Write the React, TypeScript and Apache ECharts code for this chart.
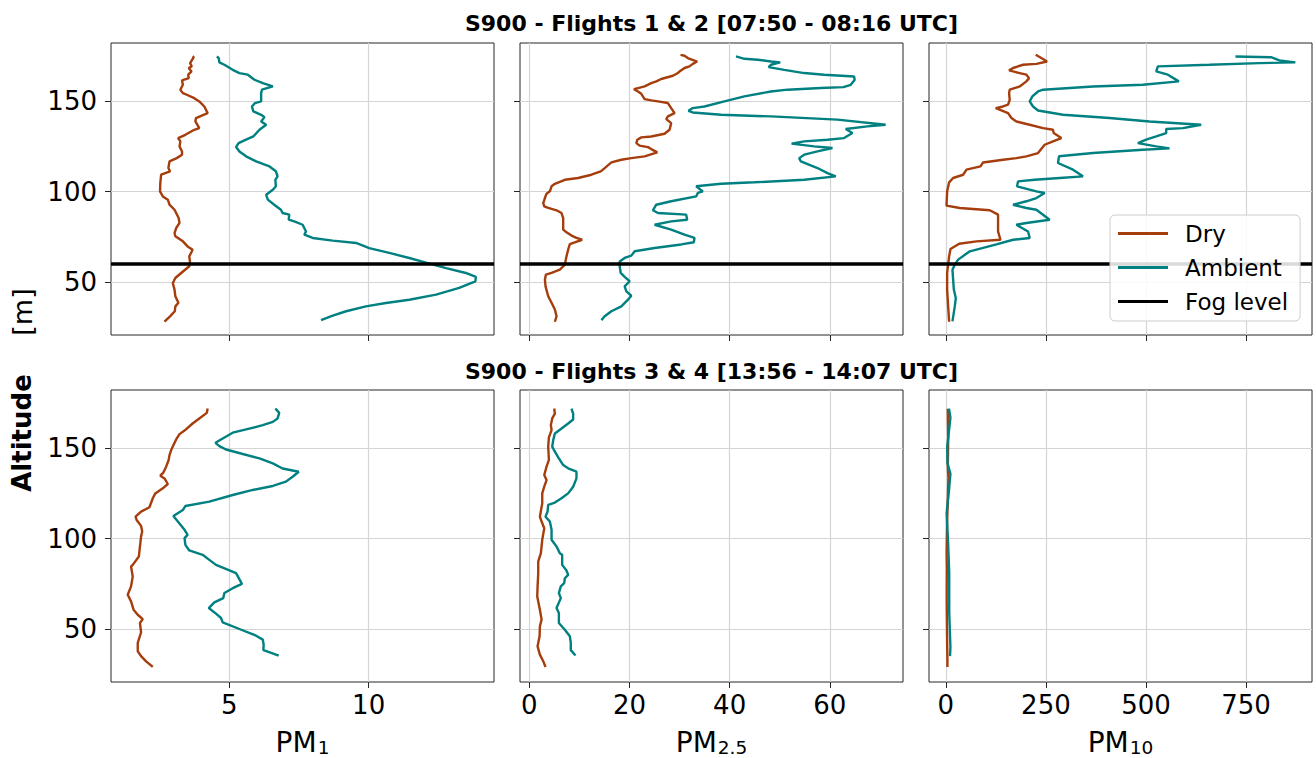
import React, { useEffect, useRef } from 'react';
import * as echarts from 'echarts';

const FONT = 'DejaVu Sans';
const DRY_COLOR = '#a63d0c';
const AMB_COLOR = '#008080';

const TITLES = ['S900 - Flights 1 & 2 [07:50 - 08:16 UTC]', 'S900 - Flights 3 & 4 [13:56 - 14:07 UTC]'];
const X_LABEL_MAIN = ['PM', 'PM', 'PM'];
const X_LABEL_SUB = ['1', '2.5', '10'];
const X_TICKS = [[5, 10], [0, 20, 40, 60], [0, 250, 500, 750]];
const Y_TICKS = [50, 100, 150];
const X_RANGES = [[0.75, 14.5], [-1.85, 74.6], [-42, 914.6]];
const Y_RANGE = [20.65, 182.35];
const FOG_LEVEL = 60;
const LEGEND_NAMES = ['Dry', 'Ambient', 'Fog level'];

// [value, altitude] — Flights 1 & 2
const dryPM1_F12 = [[3.68,175],[3.72,174.5],[3.59,171.2],[3.65,169.4],[3.54,168.5],[3.64,166.6],[3.52,164.8],[3.54,162.9],[3.30,161.6],[3.33,159.2],[3.24,156.5],[3.33,154.6],[3.47,153.7],[3.74,151.8],[3.92,150],[4.10,147.2],[4.22,143.5],[3.80,140.8],[3.78,138.9],[3.92,135.2],[3.74,134.3],[3.42,131.5],[3.16,129.7],[3.24,127.9],[3.21,125.1],[3.30,122.3],[3.30,120.5],[3.11,118.6],[2.85,116.8],[2.81,113.1],[2.87,111.3],[2.55,109.4],[2.52,104.8],[2.51,100.2],[2.61,97.4],[2.79,95.6],[2.85,92.8],[3.03,90.0],[3.18,85.4],[3.21,82.7],[3.09,79.9],[3.03,77.1],[3.06,75.3],[3.33,72.5],[3.50,69.7],[3.68,67.9],[3.56,64.2],[3.59,60.5],[3.56,58.7],[3.27,55.0],[3.06,52.2],[2.97,49.4],[3.03,45.8],[3.06,42.1],[3.17,38.5],[3.06,36.5],[3.04,33.8],[2.87,31.0],[2.67,28.0]];
const ambPM1_F12 = [[4.55,174.9],[4.62,174.0],[4.64,171.6],[4.82,170.3],[5.12,167.5],[5.36,165.7],[5.66,164.8],[5.90,162.0],[6.20,160.1],[6.56,158.3],[6.17,156.5],[6.14,154.6],[6.14,150],[5.92,149.1],[5.81,147.2],[5.86,144.5],[6.14,142.6],[6.26,141.3],[6.14,138.9],[6.32,137.1],[6.08,134.3],[5.86,130.6],[5.60,128.8],[5.33,126.9],[5.24,124.7],[5.36,122.3],[5.60,119.6],[5.96,116.8],[6.44,114.0],[6.67,111.3],[6.73,108.5],[6.65,106.6],[6.67,103.0],[6.56,101.1],[6.32,98.3],[6.38,95.6],[6.61,92.8],[6.85,90.0],[6.91,88.2],[7.15,87.3],[7.13,84.5],[7.33,83.6],[7.63,81.7],[7.75,78.0],[7.69,76.2],[7.99,74.4],[8.71,72.9],[9.55,71.6],[10.02,68.8],[10.74,66.1],[11.46,63.3],[12.12,60.5],[12.78,57.7],[13.49,55.0],[13.85,52.8],[13.83,50.4],[13.25,46.7],[12.42,43.0],[11.46,40.2],[10.62,38.4],[9.90,36.5],[9.19,33.8],[8.71,31.4],[8.29,28.9]];
const dryPM25_F12 = [[30.19,175.8],[30.99,175.3],[31.65,174.0],[33.51,172.1],[32.65,170.8],[31.98,169.4],[30.99,168.5],[29.99,166.6],[29.66,165.7],[28.67,164.2],[26.34,162.4],[25.35,161.1],[24.35,160.1],[23.03,158.3],[21.70,157.4],[20.90,156.8],[21.70,155.5],[22.36,154.2],[23.03,151.3],[24.35,150.6],[25.68,150.0],[27.67,149.1],[28.33,146.3],[29.0,143.5],[27.67,141.7],[27.34,140.2],[28.33,138.0],[28.0,134.3],[27.0,132.1],[24.35,130.6],[22.36,130.1],[21.57,128.8],[21.37,126.9],[22.03,125.5],[23.69,124.7],[24.35,123.6],[25.55,121.8],[23.03,119.6],[20.37,118.6],[18.38,117.7],[16.39,116.2],[15.06,113.1],[14.27,111.3],[12.41,109.4],[9.75,107.6],[7.10,106.6],[5.11,104.4],[4.45,103.0],[4.11,100.2],[3.45,98.9],[3.12,96.5],[2.79,93.7],[2.99,91.9],[3.78,91.0],[5.44,89.7],[6.44,88.2],[6.77,85.4],[6.77,79.0],[7.43,77.5],[8.43,75.7],[9.42,74.4],[10.55,73.4],[9.09,72.0],[8.10,71.0],[7.76,67.9],[7.43,64.2],[7.10,59.6],[6.10,56.8],[4.45,55.0],[3.32,54.1],[3.12,51.3],[3.25,47.6],[3.78,42.1],[4.45,38.5],[5.11,34.8],[5.44,31.0],[5.11,28.0]];
const ambPM25_F12 = [[41.27,174.9],[42.93,173.6],[45.59,173.1],[48.24,172.1],[50.10,171.6],[48.24,170.3],[47.78,169.0],[50.90,167.5],[54.88,165.7],[58.86,164.8],[64.83,163.8],[64.96,162.0],[64.17,159.2],[62.71,157.9],[58.20,157.4],[51.56,156.5],[48.24,155.5],[42.93,152.8],[38.95,150.0],[34.97,147.2],[32.65,146.3],[31.78,144.8],[32.65,143.9],[38.29,142.6],[48.24,141.7],[61.51,139.9],[71.13,137.1],[67.49,136.2],[63.17,134.7],[64.50,132.5],[62.84,129.7],[59.52,128.8],[54.88,127.9],[52.36,126.6],[56.87,125.1],[60.52,124.2],[57.53,122.3],[54.88,120.5],[53.88,118.6],[54.21,116.8],[57.53,113.1],[59.52,110.3],[61.18,108.5],[54.88,106.6],[44.92,105.2],[38.29,104.4],[33.31,103.0],[34.64,100.2],[33.64,99.3],[33.31,97.4],[28.33,94.7],[25.35,92.8],[24.68,89.7],[25.68,88.2],[31.32,87.3],[31.52,84.5],[28.33,83.6],[25.02,81.7],[28.33,79.0],[30.99,76.2],[32.98,74.4],[32.85,72.0],[30.33,70.8],[25.02,68.8],[21.04,67.0],[20.37,64.6],[19.04,63.3],[18.05,61.4],[18.05,58.7],[18.25,55.0],[19.04,52.8],[20.04,50.4],[19.04,47.6],[19.38,44.8],[20.37,42.4],[19.71,40.2],[18.38,36.5],[16.39,33.8],[15.06,31.0],[14.40,28.9]];
const dryPM10_F12 = [[224.5,175.8],[238.6,174.0],[252.8,172.1],[226.2,170.8],[192.9,170.3],[168.0,168.5],[158.0,167.2],[168.0,166.6],[184.6,165.7],[201.2,164.8],[207.9,162.9],[201.2,161.1],[184.6,158.3],[159.6,156.5],[158.0,154.6],[159.6,150.9],[155.5,148.2],[143.0,147.2],[124.7,146.3],[138.9,145.0],[155.5,143.5],[163.8,140.8],[176.3,138.9],[209.5,137.1],[242.8,135.2],[267.7,134.3],[269.4,132.5],[288.5,129.7],[267.7,127.9],[246.9,126.0],[230.3,121.4],[201.2,119.6],[176.3,118.6],[143.0,117.7],[93.1,116.2],[86.5,114.0],[51.6,112.2],[43.2,109.4],[18.3,107.6],[8.3,105.2],[3.3,100.2],[1.7,92.3],[34.9,91.0],[109.8,89.7],[130.5,87.3],[130.5,78.0],[136.4,73.4],[76.5,72.5],[33.3,71.2],[11.6,68.3],[8.3,64.2],[3.3,55.0],[3.3,45.8],[5.8,36.5],[8.3,28.0]];
const ambPM10_F12 = [[723.4,174.9],[812.3,174.5],[833.1,172.7],[873.0,171.6],[783.2,171.2],[658.5,170.3],[529.6,169.4],[525.5,166.6],[554.6,164.8],[582.0,161.1],[492.2,159.2],[367.5,158.3],[242.8,156.5],[230.3,155.5],[216.2,152.8],[209.5,150.0],[217.8,147.2],[230.3,145.0],[292.7,142.6],[409.1,140.8],[508.9,138.9],[637.7,137.1],[592.0,135.2],[550.4,134.7],[550.4,132.5],[525.5,130.6],[500.5,128.8],[479.8,126.9],[525.5,125.1],[558.7,124.0],[492.2,123.2],[367.5,121.4],[282.7,119.6],[280.2,115.9],[317.6,112.2],[342.6,108.5],[284.4,107.6],[222.0,106.6],[180.4,105.7],[177.9,103.0],[226.2,100.2],[246.9,99.3],[226.2,96.5],[201.2,94.7],[168.0,92.8],[201.2,91.0],[226.2,90.0],[259.4,84.5],[201.2,82.7],[176.3,81.7],[205.4,78.0],[209.5,74.4],[168.0,73.4],[126.4,70.8],[59.9,67.0],[30.8,62.4],[22.4,59.6],[16.6,56.8],[18.3,51.3],[20.0,45.8],[24.9,41.1],[22.4,36.5],[16.6,28.2]];

// [value, altitude] — Flights 3 & 4
const dryPM1_F34 = [[4.22,172.1],[4.19,169.7],[3.92,166.6],[3.68,163.8],[3.44,160.5],[3.21,157.9],[3.09,155.0],[2.99,151.8],[2.91,149.1],[2.85,146.3],[2.82,143.6],[2.73,139.9],[2.63,136.6],[2.52,134.9],[2.67,133.4],[2.79,130.3],[2.61,127.9],[2.34,125.1],[2.25,122.4],[2.13,117.4],[1.83,115.0],[1.63,112.2],[1.67,110.4],[1.83,107.1],[1.87,104.0],[1.83,101.2],[1.79,95.7],[1.75,90.1],[1.53,85.5],[1.47,84.6],[1.53,79.1],[1.47,73.6],[1.35,69.0],[1.47,65.3],[1.56,60.7],[1.71,57.9],[1.89,55.5],[1.79,53.3],[1.83,48.2],[1.71,42.3],[1.71,37.7],[1.83,35.0],[2.01,32.1],[2.25,29.0]];
const ambPM1_F34 = [[6.65,172.1],[6.79,169.7],[6.73,166.6],[6.56,164.7],[6.20,162.9],[5.60,160.5],[5.12,158.7],[4.76,155.5],[4.50,153.1],[4.64,151.3],[4.88,149.4],[5.48,146.9],[6.08,144.5],[6.56,141.7],[6.91,138.9],[7.49,137.1],[7.27,134.3],[7.03,131.6],[6.56,129.2],[5.84,127.0],[5.12,124.2],[4.28,120.5],[3.42,118.1],[3.33,115.9],[2.99,112.6],[3.15,109.5],[3.39,104.9],[3.50,102.1],[3.39,100.3],[3.42,96.6],[3.56,93.5],[4.04,91.1],[4.28,88.3],[4.52,85.5],[5.24,80.9],[5.45,75.0],[5.12,72.6],[4.82,69.9],[4.78,67.1],[4.46,64.7],[4.26,61.6],[4.52,58.5],[4.70,56.1],[4.76,53.7],[5.36,50.0],[5.96,46.3],[6.20,44.1],[6.23,41.4],[6.22,38.3],[6.50,36.8],[6.77,35.3]];
const dryPM25_F34 = [[4.98,172.1],[5.11,169.3],[4.58,166.6],[4.31,162.9],[4.45,160.1],[3.92,156.1],[3.78,150.9],[3.92,143.6],[3.45,139.9],[2.99,135.3],[3.45,132.5],[2.99,128.8],[2.59,125.1],[2.59,119.6],[2.12,112.2],[2.46,109.5],[2.99,105.8],[2.59,99.4],[2.32,92.0],[1.79,87.4],[1.79,80.9],[1.66,73.6],[1.59,68.0],[2.12,60.7],[2.46,55.2],[2.12,51.5],[2.06,46.0],[1.66,40.4],[2.12,35.8],[2.79,32.1],[3.25,29.0]];
const ambPM25_F34 = [[8.43,172.1],[8.76,169.3],[8.76,166.0],[7.76,163.8],[6.44,161.0],[5.11,158.3],[4.78,154.6],[4.58,150.9],[5.11,148.2],[5.91,144.5],[6.77,140.8],[7.76,139.0],[9.42,137.1],[9.42,133.4],[8.76,128.8],[7.76,125.1],[6.44,122.4],[5.11,120.0],[3.78,118.7],[3.65,115.0],[3.25,112.2],[4.11,109.5],[4.45,104.9],[4.45,99.4],[5.44,95.7],[6.10,92.0],[6.57,91.1],[6.57,85.5],[7.43,82.4],[7.76,80.0],[7.10,78.1],[6.97,75.4],[6.30,73.6],[5.91,69.9],[6.30,67.1],[5.44,61.6],[5.91,58.8],[5.91,53.3],[7.10,49.6],[8.10,46.0],[8.29,42.3],[8.29,38.3],[9.22,35.3]];
const dryPM10_F34 = [[5,172],[5.5,164],[6,156],[5.5,148],[5,140],[6.5,134],[5.5,125],[4,115],[3,108],[2.5,100],[2,92],[2.5,84],[2.3,75],[2.2,66],[2.5,58],[3,48],[3.5,40],[4,33],[4,29]];
const ambPM10_F34 = [[8,172],[11.5,167],[8,160],[3.5,151],[4,142],[11.5,136],[8,127],[2,114],[5.5,99],[8.5,81],[8.5,59],[11.5,40],[10.5,35]];

const DRY_SETS = [dryPM1_F12, dryPM25_F12, dryPM10_F12, dryPM1_F34, dryPM25_F34, dryPM10_F34];
const AMB_SETS = [ambPM1_F12, ambPM25_F12, ambPM10_F12, ambPM1_F34, ambPM25_F34, ambPM10_F34];

// layout (pixels)
const COL_LEFT = [111, 520, 929];
const COL_W = 383;
const ROW_TOP = [43, 390];
const ROW_H = 292;

function textWidth(s: string, size: number) {
  const w: Record<string, number> = { P: 0.603, M: 0.863, '1': 0.636, '2': 0.636, '5': 0.636, '0': 0.636, '.': 0.318 };
  let t = 0;
  for (const c of s) t += (w[c] ?? 0.6) * size;
  return t;
}

export default function App() {
  const ref = useRef<HTMLDivElement>(null);
  useEffect(() => {
    if (!ref.current) return;
    const chart = echarts.init(ref.current, undefined, { renderer: 'svg' });
    const grids: any[] = [];
    const xAxes: any[] = [];
    const yAxes: any[] = [];
    const series: any[] = [];
    for (let i = 0; i < 6; i++) {
      const col = i % 3;
      const row = Math.floor(i / 3);
      grids.push({
        left: COL_LEFT[col], top: ROW_TOP[row], width: COL_W, height: ROW_H,
        show: true, borderColor: '#262626', borderWidth: 1, backgroundColor: 'transparent',
      });
      xAxes.push({
        type: 'value', gridIndex: i, min: X_RANGES[col][0], max: X_RANGES[col][1],
        axisLine: { show: false, onZero: false },
        axisTick: { show: true, length: 6, lineStyle: { color: '#262626', width: 1 }, customValues: X_TICKS[col] },
        axisLabel: { show: row === 1, customValues: X_TICKS[col], fontSize: 26, fontFamily: FONT, color: '#000', margin: 10 },
        splitLine: { show: true, lineStyle: { color: '#d5d5d5', width: 1.2 } },
      });
      yAxes.push({
        type: 'value', gridIndex: i, min: Y_RANGE[0], max: Y_RANGE[1],
        axisLine: { show: false, onZero: false },
        axisTick: { show: true, length: 6, lineStyle: { color: '#262626', width: 1 }, customValues: Y_TICKS },
        axisLabel: { show: col === 0, customValues: Y_TICKS, fontSize: 26, fontFamily: FONT, color: '#000', margin: 14 },
        splitLine: { show: true, lineStyle: { color: '#d5d5d5', width: 1.2 } },
      });
      series.push({
        name: 'Dry', type: 'line', xAxisIndex: i, yAxisIndex: i, data: DRY_SETS[i],
        showSymbol: false, symbol: 'none', color: DRY_COLOR,
        lineStyle: { color: DRY_COLOR, width: 2.4 }, z: 2,
      });
      series.push({
        name: 'Ambient', type: 'line', xAxisIndex: i, yAxisIndex: i, data: AMB_SETS[i],
        showSymbol: false, symbol: 'none', color: AMB_COLOR,
        lineStyle: { color: AMB_COLOR, width: 2.4 }, z: 2,
      });
      if (row === 0) {
        series.push({
          name: 'Fog level', type: 'line', xAxisIndex: i, yAxisIndex: i, data: [],
          color: '#000', lineStyle: { color: '#000', width: 3.5 }, z: 3,
          markLine: {
            silent: true, symbol: 'none', label: { show: false }, z: 3,
            lineStyle: { color: '#000', width: 3.5, type: 'solid' },
            data: [{ yAxis: FOG_LEVEL }],
          },
        });
      }
    }
    const graphics: any[] = [];
    TITLES.forEach((t, r) => {
      graphics.push({
        type: 'text', x: COL_LEFT[1] + COL_W / 2, y: r === 0 ? 23 : 371,
        style: { text: t, fontSize: 22, fontWeight: 'bold', fontFamily: FONT, fill: '#000', align: 'center', verticalAlign: 'middle' },
      });
    });
    for (let c = 0; c < 3; c++) {
      const mainW = textWidth(X_LABEL_MAIN[c], 28);
      const subW = textWidth(X_LABEL_SUB[c], 18.5);
      const x0 = COL_LEFT[c] + COL_W / 2 - (mainW + subW + 1) / 2;
      graphics.push({
        type: 'text', x: x0, y: 742,
        style: { text: X_LABEL_MAIN[c], fontSize: 28, fontFamily: FONT, fill: '#000', align: 'left', verticalAlign: 'middle' },
      });
      graphics.push({
        type: 'text', x: x0 + mainW + 1, y: 747.5,
        style: { text: X_LABEL_SUB[c], fontSize: 18.5, fontFamily: FONT, fill: '#000', align: 'left', verticalAlign: 'middle' },
      });
    }
    graphics.push({
      type: 'text', x: 22, y: 433, rotation: Math.PI / 2,
      style: { text: 'Altitude', fontSize: 26, fontWeight: 'bold', fontFamily: FONT, fill: '#000', align: 'center', verticalAlign: 'middle' },
    });
    graphics.push({
      type: 'text', x: 22, y: 312, rotation: Math.PI / 2,
      style: { text: '[m]', fontSize: 27, fontFamily: FONT, fill: '#000', align: 'center', verticalAlign: 'middle' },
    });

    chart.setOption({
      animation: false,
      backgroundColor: '#fff',
      textStyle: { fontFamily: FONT },
      grid: grids,
      xAxis: xAxes,
      yAxis: yAxes,
      series,
      legend: {
        left: 1110, top: 215, orient: 'vertical', z: 20, zlevel: 0,
        data: LEGEND_NAMES.map((n) => ({ name: n, icon: 'rect' })),
        itemWidth: 50, itemHeight: 3, itemGap: 11,
        textStyle: { fontSize: 23, fontFamily: FONT, color: '#000', padding: [0, 0, 0, 12] },
        backgroundColor: 'rgba(255,255,255,0.85)', borderColor: '#cccccc', borderWidth: 1, borderRadius: 5,
        padding: [7, 12, 8, 8],
        selectedMode: false,
      },
      graphic: graphics,
    });
    return () => chart.dispose();
  }, []);
  return <div ref={ref} style={{ position: 'absolute', left: 0, top: 0, width: 1316, height: 758 }} />;
}
